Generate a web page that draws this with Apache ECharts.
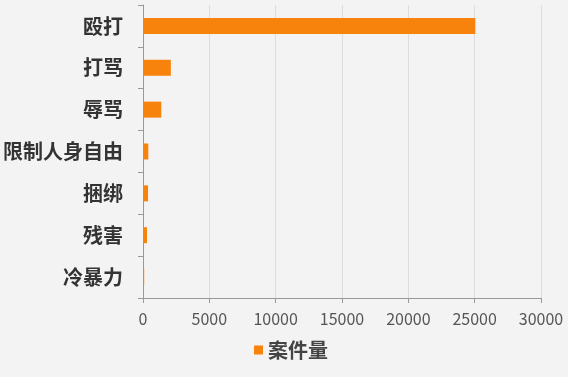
<!DOCTYPE html>
<html>
<head>
<meta charset="utf-8">
<script src="https://cdn.jsdelivr.net/npm/echarts@6/dist/echarts.min.js"></script>
<style>
html,body{margin:0;padding:0;background:#f4f3f3;}
.bar{width:568px;height:377px;}
</style>
</head>
<body>
<div class="bar"></div>
<script>
// 案件类型 横向柱形图
var categories = ['殴打', '打骂', '辱骂', '限制人身自由', '捆绑', '残害', '冷暴力'];
var caseCounts = [25050, 2100, 1380, 400, 380, 300, 90];
var xTicks = [0, 5000, 10000, 15000, 20000, 25000, 30000];

(function(){
  var myChart = echarts.init(document.querySelector('.bar'));
  var option = {
    backgroundColor: '#f4f3f3',
    animation: false,
    legend: {
      data: ['案件量'],
      bottom: 12,
      left: 249,
      itemWidth: 9,
      itemHeight: 9,
      icon: 'rect',
      itemGap: 4,
      textStyle: {
        color: '#444',
        fontSize: 20,
        fontWeight: 'bold',
        fontFamily: 'Noto Sans CJK SC'
      }
    },
    grid: {
      left: 143,
      right: 27,
      top: 5,
      bottom: 79
    },
    xAxis: {
      type: 'value',
      min: xTicks[0],
      max: xTicks[xTicks.length - 1],
      interval: 5000,
      axisLine: { show: true, lineStyle: { color: '#999' } },
      axisTick: { show: true, length: 5, lineStyle: { color: '#999' } },
      axisLabel: {
        color: '#555',
        fontSize: 16,
        margin: 13,
        fontFamily: 'Noto Sans CJK SC',
        formatter: function(v){ return String(v); }
      },
      splitLine: { lineStyle: { color: '#dedddd' } }
    },
    yAxis: {
      type: 'category',
      inverse: true,
      data: categories,
      axisLine: { lineStyle: { color: '#999' } },
      axisTick: { show: true, length: 5, lineStyle: { color: '#999' } },
      axisLabel: {
        color: '#333',
        fontSize: 20,
        fontWeight: 'bold',
        margin: 20,
        fontFamily: 'Noto Sans CJK SC'
      }
    },
    series: [
      {
        name: '案件量',
        type: 'bar',
        barWidth: 16,
        data: caseCounts,
        itemStyle: { color: '#f7820c' }
      }
    ]
  };
  myChart.setOption(option);
})();
</script>
</body>
</html>
